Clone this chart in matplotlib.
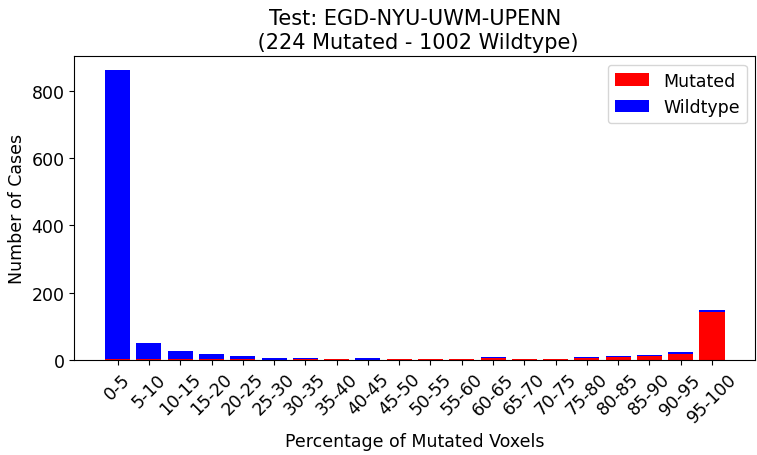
import matplotlib
matplotlib.use("Agg")
import matplotlib.pyplot as plt
import numpy as np

# bins of mutated-voxel percentage
bins = ['0-5', '5-10', '10-15', '15-20', '20-25', '25-30', '30-35', '35-40', '40-45', '45-50',
        '50-55', '55-60', '60-65', '65-70', '70-75', '75-80', '80-85', '85-90', '90-95', '95-100']
mutated = [3, 2, 4, 2, 2, 1, 2, 2, 1, 2, 2, 4, 5, 2, 4, 6, 9, 11, 18, 142]
wildtype = [857, 49, 23, 16, 9, 6, 5, 2, 5, 2, 2, 0, 3, 2, 0, 2, 3, 4, 5, 7]

fs = 12.5

fig = plt.figure(figsize=(7.57, 4.56), dpi=100)
ax = fig.add_axes([0.098, 0.208, 0.9, 0.667])

x = np.arange(len(bins))
ax.bar(x, mutated, color='red', label='Mutated')
ax.bar(x, wildtype, bottom=mutated, color='blue', label='Wildtype')

ax.set_xticks(x)
ax.set_xticklabels(bins, rotation=45, fontsize=fs)
ax.tick_params(axis='y', labelsize=fs)
ax.set_yticks([0, 200, 400, 600, 800])
ax.set_xlabel('Percentage of Mutated Voxels', fontsize=fs)
ax.set_ylabel('Number of Cases', fontsize=fs)
ax.set_title('Test: EGD-NYU-UWM-UPENN\n (%d Mutated - %d Wildtype)' % (sum(mutated), sum(wildtype)),
             fontsize=15)
ax.legend(loc='upper right', fontsize=fs)

fig.savefig('out.png', dpi=100)
